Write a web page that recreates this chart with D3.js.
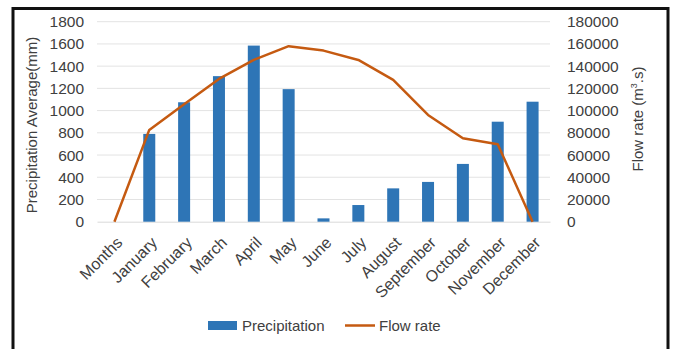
<!DOCTYPE html>
<html><head><meta charset="utf-8">
<script src="https://cdn.jsdelivr.net/npm/d3@7"></script>
<style>
body{margin:0;background:#fff;}
text{font-family:"Liberation Sans",Arial,sans-serif;fill:#404040;}
</style></head>
<body><svg id="c" width="675" height="349"></svg>
<script>
const categories = ["Months","January","February","March","April","May","June","July","August","September","October","November","December"];
const precipitation = [null,790,1075,1310,1585,1193,30,150,300,358,520,900,1080];
const flowRate = [0,82600,105700,128500,145600,158000,154000,145600,127600,96100,75100,69700,0];
const leftTicks = [0,200,400,600,800,1000,1200,1400,1600,1800];
const rightTicks = [0,20000,40000,60000,80000,100000,120000,140000,160000,180000];

const svg = d3.select("#c");
const FONT = "Liberation Sans, Arial, sans-serif";
// outer frame
svg.append("rect").attr("x",13).attr("y",8.5).attr("width",655).attr("height",350)
  .attr("fill","none").attr("stroke","#111").attr("stroke-width",3);

const m = {l:97, r:550, t:21.7, b:221.7};
const x = d3.scaleBand().domain(categories).range([m.l, m.r]);
const yL = d3.scaleLinear().domain([0,1800]).range([m.b, m.t]);
const yR = d3.scaleLinear().domain([0,180000]).range([m.b, m.t]);

// grid
svg.append("g").selectAll("line").data(leftTicks.slice(1)).join("line")
  .attr("x1",m.l).attr("x2",m.r).attr("y1",d=>yL(d)).attr("y2",d=>yL(d))
  .attr("stroke","#e3e3e3").attr("stroke-width",1);

// left axis
const gl = svg.append("g").attr("transform",`translate(${m.l},0)`)
  .call(d3.axisLeft(yL).tickValues(leftTicks).tickFormat(d3.format("d")).tickSize(0).tickPadding(13));
gl.select(".domain").remove();
gl.selectAll("text").attr("font-size",15.5).attr("fill","#404040").style("font-family",FONT);

// right axis
const gr = svg.append("g").attr("transform",`translate(${m.r},0)`)
  .call(d3.axisRight(yR).tickValues(rightTicks).tickFormat(d3.format("d")).tickSize(0).tickPadding(17));
gr.select(".domain").remove();
gr.selectAll("text").attr("font-size",15.5).attr("fill","#404040").style("font-family",FONT);

// bottom axis
const gb = svg.append("g").attr("transform",`translate(0,${m.b})`)
  .call(d3.axisBottom(x).tickSize(0).tickPadding(0));
gb.select(".domain").attr("stroke","#d9d9d9");
gb.selectAll("text").attr("font-size",16).attr("fill","#404040")
  .style("font-family",FONT)
  .attr("text-anchor","end").attr("dy","0.35em")
  .attr("transform","translate(5,18) rotate(-45)");

// bars
const bw = 12;
svg.append("g").selectAll("rect").data(categories.map((c,i)=>({c,v:precipitation[i]})).filter(d=>d.v!=null))
  .join("rect")
  .attr("x",d=>x(d.c)+x.bandwidth()/2-bw/2).attr("width",bw)
  .attr("y",d=>yL(d.v)).attr("height",d=>yL(0)-yL(d.v))
  .attr("fill","#2e75b6");

// line
const line = d3.line().x((d,i)=>x(categories[i])+x.bandwidth()/2).y(d=>yR(d));
svg.append("path").datum(flowRate).attr("d",line).attr("fill","none")
  .attr("stroke","#c55a11").attr("stroke-width",2.5).attr("stroke-linejoin","round");

// axis titles
svg.append("text").attr("transform",`translate(37,125) rotate(-90)`)
  .attr("text-anchor","middle").attr("font-size",15).text("Precipitation Average(mm)");
const rt = svg.append("text").attr("transform",`translate(643,119) rotate(-90)`)
  .attr("text-anchor","middle").attr("font-size",15);
rt.append("tspan").text("Flow rate (m");
rt.append("tspan").attr("font-size",9).attr("dy",-6).text("3");
rt.append("tspan").attr("dy",6).text(".s)");

// legend
const lg = svg.append("g");
lg.append("rect").attr("x",208).attr("y",321).attr("width",29).attr("height",9).attr("fill","#2e75b6");
lg.append("text").attr("x",242).attr("y",331).attr("font-size",15).text("Precipitation");
lg.append("line").attr("x1",345).attr("x2",375).attr("y1",325.5).attr("y2",325.5).attr("stroke","#c55a11").attr("stroke-width",2.5);
lg.append("text").attr("x",379).attr("y",331).attr("font-size",15).text("Flow rate");
</script></body></html>
